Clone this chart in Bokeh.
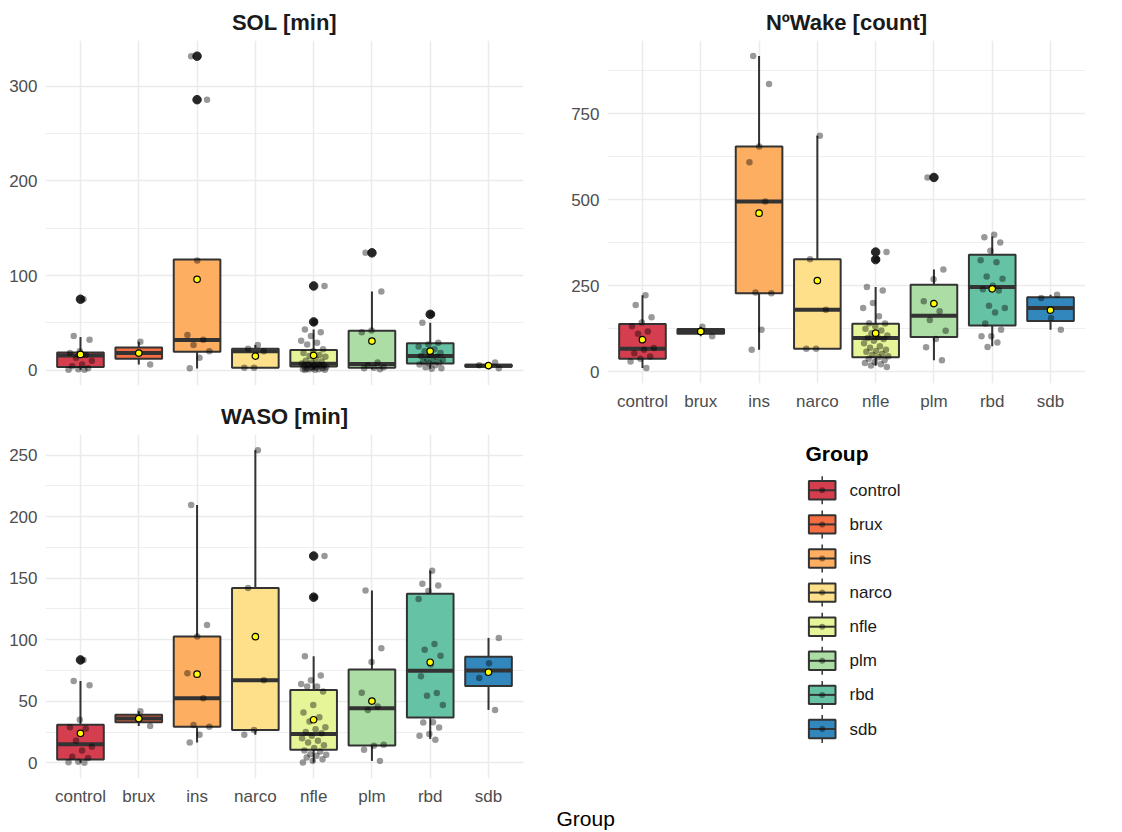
import numpy as np
from bokeh.plotting import figure
from bokeh.layouts import row, column
from bokeh.models import Range1d, FixedTicker, Title
from bokeh.core.properties import value
from bokeh.embed import file_html
from bokeh.resources import INLINE

FONT = "Liberation Sans"

groups = ["control", "brux", "ins", "narco", "nfle", "plm", "rbd", "sdb"]
colors = ["#D53E4F", "#F46D43", "#FDAE61", "#FEE08B", "#E6F598", "#ABDDA4", "#66C2A5", "#3288BD"]

# ---------------- SOL [min] ----------------
sol_q1 = [3.2, 12, 19.4, 2.5, 3.9, 2.6, 7.1, 3.5]
sol_med = [15.5, 18, 31.8, 20, 6.7, 6.5, 14.8, 4.5]
sol_q3 = [18.7, 24, 117, 22.6, 21.2, 41.5, 28.3, 5.75]
sol_lo = [0.3, 6, 1.8, 2.5, 0.3, 1, 1.5, 2]
sol_hi = [35, 30, 117, 26.5, 43, 83, 50, 8]
sol_mean = [16.6, 18, 96, 14.8, 15.6, 30.7, 20, 4.75]
sol_out = {"control": [75], "ins": [332, 286], "nfle": [89, 51], "plm": [124], "rbd": [59]}
sol_pts = {
    "control": [75, 36, 32, 20, 18, 16, 13, 10, 6, 4, 2, 1, 0.5, 0.3],
    "brux": [6, 30],
    "ins": [332, 286, 116, 37, 32, 26.5, 20, 13, 2],
    "narco": [26.5, 22.6, 20, 2.5, 2.5],
    "nfle": [89, 51, 43, 40, 36, 31, 29, 27, 22, 20, 18, 16, 15, 14, 12, 10, 9, 8, 7, 6, 6,
             5, 5, 4, 4, 3, 3, 3, 2, 2, 2, 1, 1, 1, 0.5, 0.5, 0.3],
    "plm": [124, 83, 42, 40, 8, 5, 3, 2.5, 2, 1],
    "rbd": [59, 50, 29, 27, 25, 22, 20, 18, 16, 15, 14, 12, 11, 10, 9, 8, 7, 6, 5, 3, 2, 1.5],
    "sdb": [2, 4, 5, 8],
}
sol_ticks = [0, 100, 200, 300]
sol_minor = [50, 150, 250]

# ---------------- NºWake [count] ----------------
wake_q1 = [38, 110, 228, 67, 42, 101, 134, 147.5]
wake_med = [67, 117, 495, 180, 98, 163, 246, 185]
wake_q3 = [138.6, 124, 655, 327, 139.5, 253, 340, 216.5]
wake_lo = [11, 103, 64, 67, 17, 33, 74, 122]
wake_hi = [222, 131, 918, 686, 246, 297, 393, 224]
wake_mean = [93, 117, 461, 265, 112, 198, 241, 179]
wake_out = {"nfle": [348, 326], "plm": [565]}
wake_pts = {
    "control": [222, 194, 158, 143, 132, 117, 110, 69, 64, 54, 44, 38, 30, 11],
    "brux": [103, 131],
    "ins": [918, 837, 655, 609, 495, 230, 228, 122, 64],
    "narco": [686, 327, 180, 67, 67],
    "nfle": [348, 326, 246, 236, 200, 185, 161, 141, 140, 132, 125, 120, 112, 105, 100, 98, 95,
             90, 83, 74, 70, 64, 60, 58, 52, 49, 45, 42, 38, 33, 28, 25, 22, 18, 14],
    "plm": [565, 297, 269, 205, 176, 150, 119, 95, 71, 33],
    "rbd": [398, 391, 376, 352, 324, 318, 277, 270, 250, 240, 236, 192, 185, 172, 140, 122,
            103, 103, 85, 72],
    "sdb": [122, 156, 214, 224],
}
wake_ticks = [0, 250, 500, 750]
wake_minor = [125, 375, 625, 875]

# ---------------- WASO [min] ----------------
waso_q1 = [2.7, 33, 29.3, 26.6, 10.6, 14.2, 36.9, 62.5]
waso_med = [15.2, 36, 52.4, 67, 23.4, 44.4, 74.9, 75]
waso_q3 = [30.9, 39, 102.6, 142, 59.2, 75.75, 137.4, 86.1]
waso_lo = [0, 30, 16.5, 22.8, 0.3, 1.6, 19.3, 43]
waso_hi = [66.5, 42, 209.5, 254, 86.6, 140, 156, 101.5]
waso_mean = [24, 36, 72, 102.5, 35, 50.2, 81.7, 73.6]
waso_out = {"control": [83.6], "nfle": [168, 134.6]}
waso_pts = {
    "control": [83.6, 66.5, 63, 35, 29, 28, 18, 13, 10, 5, 4, 1, 0.5, 0],
    "brux": [30, 42],
    "ins": [209.5, 112, 102.6, 72.7, 52.4, 30.7, 29.3, 22.8, 16.5],
    "narco": [254, 142, 67, 26.6, 22.8],
    "nfle": [168, 134.6, 86.6, 71, 67, 64, 62, 62, 58, 47, 41, 37, 33.6, 29, 27.4, 25, 24,
             22, 20, 18, 16.5, 14.4, 12, 10, 9.2, 7, 6.5, 5.7, 4.3, 3, 1.6, 0.3],
    "plm": [140, 93, 82, 57, 45.8, 43, 14.7, 14, 10.6, 1.6],
    "rbd": [156, 145.5, 144, 139.5, 133, 96.6, 91.8, 87, 79.8, 70.3, 56.7, 54.5, 47, 33,
            32.8, 28.7, 23.4, 22, 18.7],
    "sdb": [101.5, 80.9, 69, 43],
}
waso_ticks = [0, 50, 100, 150, 200, 250]
waso_minor = [25, 75, 125, 175, 225]

GRID = "#EBEBEB"
DARK = "#333333"


def jitter(n, start):
    # deterministic low-discrepancy horizontal jitter (layout only)
    return [(((start + k + 1) * 0.6180339887) % 1.0 - 0.5) * 0.44 for k in range(n)]


def panel(title, q1, med, q3, lo, hi, mean, outl, pts, ticks, minor, width, height,
          left, right, top, bottom, show_x):
    allv = [v for g in groups for v in pts[g]] + list(lo) + list(hi)
    ymin, ymax = min(allv), max(allv)
    pad = 0.05 * (ymax - ymin)
    p = figure(width=width, height=height, title=title,
               x_range=Range1d(0.4, 8.6), y_range=Range1d(ymin - pad, ymax + pad),
               output_backend="svg", toolbar_location=None,
               min_border_left=left, min_border_right=right,
               min_border_top=top, min_border_bottom=bottom)
    p.outline_line_color = None
    p.background_fill_color = "white"
    p.border_fill_color = "white"
    p.title.text_font = FONT
    p.title.text_font_size = "22px"
    p.title.text_font_style = "bold"
    p.title.text_color = "#1A1A1A"
    p.title.align = "center"
    p.title.standoff = 11

    xs = np.arange(1, len(groups) + 1, dtype=float)
    p.xaxis.ticker = FixedTicker(ticks=list(xs))
    p.xaxis.major_label_overrides = {int(x): g for x, g in zip(xs, groups)}
    p.yaxis.ticker = FixedTicker(ticks=ticks, minor_ticks=minor)
    for ax in (p.xaxis, p.yaxis):
        ax.axis_line_color = None
        ax.major_tick_line_color = None
        ax.minor_tick_line_color = None
        ax.major_tick_out = 0
        ax.major_tick_in = 0
        ax.minor_tick_out = 0
        ax.minor_tick_in = 0
        ax.major_label_text_font = FONT
        ax.major_label_text_font_size = "17px"
        ax.major_label_text_color = "#4D4D4D"
    p.yaxis.major_label_standoff = 8
    p.xaxis.major_label_standoff = 8
    p.xgrid.ticker = FixedTicker(ticks=list(xs))
    if not show_x:
        p.xaxis.visible = False
    p.xgrid.grid_line_color = GRID
    p.xgrid.grid_line_width = 1.5
    p.ygrid.grid_line_color = GRID
    p.ygrid.grid_line_width = 1.5
    p.ygrid.minor_grid_line_color = GRID
    p.ygrid.minor_grid_line_width = 0.8

    hw = 0.4
    p.segment(x0=xs, y0=q3, x1=xs, y1=hi, line_color=DARK, line_width=2)
    p.segment(x0=xs, y0=q1, x1=xs, y1=lo, line_color=DARK, line_width=2)
    p.quad(left=xs - hw, right=xs + hw, bottom=q1, top=q3, fill_color=colors,
           fill_alpha=1.0, line_color=DARK, line_width=2)
    p.segment(x0=xs - hw, y0=med, x1=xs + hw, y1=med, line_color=DARK, line_width=4,
              line_cap="butt")

    ox, oy = [], []
    for i, g in enumerate(groups):
        for v in outl.get(g, []):
            ox.append(xs[i])
            oy.append(v)
    p.scatter(ox, oy, size=8.5, fill_color="#262626", line_color="#262626")

    jx, jy = [], []
    for i, g in enumerate(groups):
        offs = jitter(len(pts[g]), i * 7)
        for v, o in zip(pts[g], offs):
            jx.append(xs[i] + o)
            jy.append(v)
    p.scatter(jx, jy, size=6.5, fill_color="black", fill_alpha=0.4, line_color=None)

    p.scatter(xs, mean, size=6.5, fill_color="#FFFF00", line_color="black", line_width=1.2)
    return p


p1 = panel("SOL [min]", sol_q1, sol_med, sol_q3, sol_lo, sol_hi, sol_mean, sol_out, sol_pts,
           sol_ticks, sol_minor, 545, 395, 45, 22, 40, 10, False)
p2 = panel("NºWake [count]", wake_q1, wake_med, wake_q3, wake_lo, wake_hi, wake_mean, wake_out,
           wake_pts, wake_ticks, wake_minor, 577, 413, 62, 37, 40, 28, True)
p3 = panel("WASO [min]", waso_q1, waso_med, waso_q3, waso_lo, waso_hi, waso_mean, waso_out,
           waso_pts, waso_ticks, waso_minor, 545, 437, 45, 22, 39, 54, True)

# ---------------- legend + shared x-axis title ----------------
# this figure sits below p2 (its frame is aligned with p2's frame, 62 px in from the left)
H4, B4 = 419, 30
p4 = figure(width=577, height=H4, x_range=Range1d(62, 540), y_range=Range1d(H4 - B4, 0),
            x_axis_type=None, y_axis_type=None, output_backend="svg", toolbar_location=None,
            min_border_left=62, min_border_right=37, min_border_top=0, min_border_bottom=B4)
p4.outline_line_color = None
p4.grid.visible = False
p4.background_fill_color = "white"
p4.border_fill_color = "white"

p4.text(x=[260], y=[40], text=["Group"], text_font=value(FONT), text_font_size="21px",
        text_font_style="bold", text_color="#000000", text_baseline="middle", text_align="left")
kx, kw, kh, step, y0 = 276.7, 13.3, 9.2, 34.1, 76.8
cys = [y0 + step * i for i in range(len(groups))]
p4.segment(x0=[kx] * 8, y0=[c - 14 for c in cys], x1=[kx] * 8, y1=[c + 14 for c in cys],
           line_color=DARK, line_width=1.5)
p4.quad(left=[kx - kw] * 8, right=[kx + kw] * 8, bottom=[c + kh for c in cys],
        top=[c - kh for c in cys], fill_color=colors, line_color=DARK, line_width=2)
p4.segment(x0=[kx - kw] * 8, y0=cys, x1=[kx + kw] * 8, y1=cys, line_color=DARK, line_width=2)
p4.scatter([kx] * 8, cys, size=6, fill_color="black", fill_alpha=0.4, line_color=None)
p4.text(x=[304] * 8, y=cys, text=groups, text_font=value(FONT), text_font_size="17px",
        text_color="#1A1A1A", text_baseline="middle", text_align="left")
# shared x-axis title, centred under the whole panel area
p4.add_layout(Title(text="Group", align="left", offset=-51, standoff=4,
                    text_font=FONT, text_font_size="21px", text_font_style="normal",
                    text_color="#000000"), "below")

layout = row(column(p1, p3), column(p2, p4))
open("out.html", "w").write(file_html(layout, INLINE))
